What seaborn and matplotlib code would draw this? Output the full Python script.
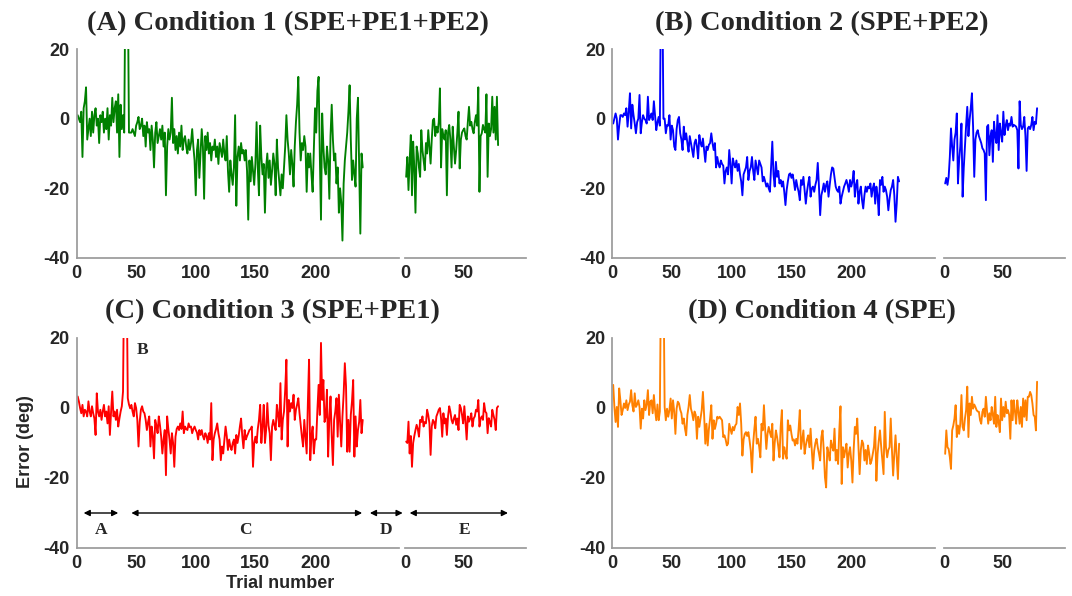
import numpy as np
import pandas as pd
import matplotlib
matplotlib.use("Agg")
import matplotlib.pyplot as plt
import seaborn as sns

# error (deg) per trial
cond1_main = [
    1, 0, -1, 2, -11, 3, 5, 9, -6, -3,
    0, -5, 2, -4, 1, 3, -2, 0, -7, 1,
    -1, 2, -4, 0, -3, 3, -6, 1, -2, 6,
    -1, 3, 5, -4, 7, -11, 4, -3, 1, -4,
    40, 40, 40, -4, -4, -4, -3, -4, -5, -2,
    -1, 0.5, -3, -2, 0, -5, -2, -8, -1, -4,
    -3, -9, -2, -6, -14, -4, -1, -7, -5, -3,
    -6, -2, -8, -4, -22, -8, -3, -6, -4, 6,
    -7, -3, -9, -5, -10, -4, -8, -2, -9, -6,
    -5, -8, -10, -6, -9, -7, -3, -8, -12, -22,
    -9, -6, -17, -10, -3, -8, -23, -5, -9, -4,
    -10, -7, -12, -8, -9, -6, -11, -8, -13, -7,
    -9, -11, -6, -10, -12, -5, -15, -21, -12, -16,
    -19, -14, 1, -25, -11, -8, -12, -7, -10, -9,
    -12, -9, -15, -29, -12, -18, -11, -15, -19, -13,
    -1, -14, -22, -2, -11, -16, -13, -27, -14, -10,
    -17, -12, -19, -15, -10, -13, -22, -6, -14, -18,
    -22, -16, -20, -14, -8, 1, -6, -10, -16, -9,
    -13, -19.5, -8, -1, 4, 12, -4, -12, -7, -9,
    -5, -8, -21, -10, -14, -10, -16, -21, -9, 3,
    -4, 8, 12, -10, -29, 1.5, -8, -14, -16, -8,
    -12, -23, -5, 4, -6, -12, -10, -18.6, -14, -27,
    -20, -24, -35, -18.6, -12, -8, -4, 2, 9.6, -6,
    -17.6, -12, -16, -19.5, 0, 6, -14, -33, -10, -14,
]
cond1_post = [
    -16.7, -11, -20.5, -12, -4.7, -22, -6.6, -14, -27, -8,
    -10, -14, -16.7, -3.3, -9, -12, -14.8, -7, -10, -3.3,
    -8, -12.9, -6, -0.4, 0, -5, -2.3, -4, -1, 8.7,
    -14, -3, -5, -6, -3.3, -22, -4, -1.8, -6, -14,
    -2.3, -8, -12.9, -9, -4, 2, -14.3, -6, -4, -3.3,
    -2.8, -5, -6, -1, 3.4, -2, -0.9, -3, -4.2, -1,
    1, -2, 9, -21, -5, -4.2, -1.8, -3, -4, 7,
    -16.7, -1.4, -5, -3, 6.3, -4, 3.4, -6, 6.3, -7.6,
]

cond2_main = [
    -1.4, 0, 1.5, 0, -6, -2, 1, 1, 0.5, 1.5,
    1, 3, -2.3, 2, 7.3, -2.8, 4, 1, -1.4, -4.2,
    -1, 0, 6.8, -4.2, -1, 1, 0, -0.4, -1.4, 6.3,
    -0.4, 0.5, 1.5, -0.4, 5, 1, -3.3, -1, 0.5, -2,
    40, 40, 0, 0, -4.2, -1.8, -2, 1, -6, -2,
    -3.3, -8, -9, -3, -0.4, 0.5, -4.2, -6, -9, -2.3,
    -6, -4.2, -7, -9.5, -5, -7, -9, -11, -7, -6,
    -8, -11.4, -4.7, -7, -8, -5.7, -9, -12.4, -8, -9,
    -7.5, -7, -4.2, -7, -9, -7, -14, -11, -13, -14,
    -12, -13, -13.5, -18.6, -15, -14, -16, -9, -13, -18.6,
    -11.4, -13, -14, -12, -15, -13, -16, -18, -22, -16,
    -15, -14, -11, -17.6, -15, -14, -11, -15, -17.6, -12,
    -14, -16, -12, -13, -14, -18, -16.7, -18, -19.5, -18.6,
    -20, -21, -14, -6.6, -16, -19.5, -12.4, -16.7, -15, -18.6,
    -17.6, -19.5, -18, -21, -24.8, -20.5, -18, -16, -15.7, -17,
    -16, -18, -20.5, -17.6, -19.5, -21, -23.4, -17.6, -19, -16.7,
    -20.5, -24.4, -21, -18.6, -16.7, -22.4, -20, -19.5, -21, -19,
    -17.6, -12.7, -19.5, -27.7, -22, -20.5, -18.6, -21, -19, -18,
    -22.4, -19, -16, -14, -14.3, -17, -19.5, -20.5, -21, -19.5,
    -24.4, -22.4, -21, -19.5, -18.6, -17.6, -19, -21, -17.6, -19.5,
    -18, -15, -22.4, -19, -17.6, -24.4, -21, -19.5, -23.4, -25.8,
    -22, -19.5, -21, -19.5, -20, -18.6, -22.4, -20, -18.6, -24.4,
    -19.5, -22, -27.7, -17.6, -19, -16.7, -21, -19.5, -20.5, -22.4,
    -26.3, -23, -20.5, -19.5, -17.6, -22, -29.6, -24.4, -16.7, -18,
]
cond2_post = [
    -18.6, -17, -19, -16.7, -11, -2.8, -8, -12, -6, -4,
    1.5, -18.6, -12, -8, -1.4, -22.4, -14, -8, -2, 3.4,
    -5, -0.4, 3, 7.3, -2.3, -16.7, -6, -4, -3.3, -5,
    -6, -7, -8.5, -9, -10, -23.4, -2.3, -1.8, -10.5, -5,
    -3.3, -12.4, -0.9, -5, -7, 1, -9, -1.4, -4.2, -6.6,
    2, -4.7, -2, -0.4, -3.3, -1.4, -2, 0.5, -2.3, -1.8,
    -2, -2.3, -3.3, -14.3, 5, -1.8, -3, -2.3, 0.5, -5,
    -15, -2.8, -2.3, -3, -1.8, 0.5, -3.3, -0.9, -1.5, 3,
]

cond3_main = [
    3.3, 1.9, 0, -1.5, 0.9, -2.4, -0.5, -1, -2.4, 1.9,
    -1, -2.4, 0.5, -1.5, -3, -7.7, 4.2, -1, -2.4, -0.5,
    -3.4, -1, 0.9, -2.4, -1, -4.4, 0.5, -7.7, -1, 4.7,
    -2.4, -1, -3.4, -0.5, -5.3, -3, -1, 0.5, 4.7, 40,
    40, 40, 2.8, 1, -0.1, 0.9, -1, -2.4, 1.4, 0,
    -3.4, -11, -4, -0.5, 0.5, -1, -1.5, -3.4, -6.3, -4,
    -2.4, -11, -5.3, -8, -14.4, -3.4, -5, -7.2, -2.4, -5,
    -8.2, -13, -9, -6.3, -19.2, -2.4, -6, -9, -13, -7.2,
    -10, -16.8, -8.2, -6, -5.3, -6.3, -4.4, -6, -1, -7.2,
    -5.3, -6, -6.3, -4.4, -5.5, -5.3, -7.2, -6, -5.3, -6.3,
    -7, -9, -6.3, -7.7, -6.3, -8, -9, -7.2, -8, -10,
    -7.2, -9, 1.4, -14.9, -9, -7.2, -6, -4.4, -7.2, -9,
    -14.9, -11, -13, -9, -5.3, -8, -12, -9, -11, -12,
    -10, -9, -13, -7.7, -10, -8, -5.3, -3, -8, -11.5,
    -6.3, -9, -8, -7.2, -6.3, -6, -5.3, -16.8, -10, -8.2,
    -10, -6, -3.4, 0.9, -10, -5.3, 0.9, -10, -6.3, 1.4,
    -5, -7.2, -14.9, -5.3, -3.4, -5, -6.3, 0.9, -2, -5.3,
    7.1, -9, -3.4, -1, 5.2, 13.8, -11, 2.3, -1, 1.4,
    0, 3.8, -3.4, -0.5, 1, 2.8, -1.5, -5, -8.2, -11,
    -3.4, -8, -13, 1.4, 13.8, -14.9, -8, -5.3, -13, -9,
    -9, -0.5, 6.6, -2, 18.6, 2.3, 8, -4, -2.4, 5.2,
    -13.9, -3, 3.3, -8, -16.3, -3.4, -1, 2.8, -8.2, 3.8,
    -4, -11, -2.4, 4, 12.8, 6.2, -12.5, -3.4, -12.5, -2,
    1.9, 8, -13.9, -2.4, -11, -6.3, -4, 2.3, -7.2, -3.4,
]
cond3_post = [
    -9.6, -10, -3.9, -13, -8, -16.8, -10, -8, -6.3, -4.8,
    -6, -8.2, -3.4, -4, -2.4, -5.3, -4, -4.4, -0.5, -2,
    -4.4, -13.4, -5.3, -3.4, -4, -5.8, -2.4, -1.5, -0.5, 0,
    -3, -8.2, -1.5, -4.4, -3, -7.7, -2.4, 0.5, -1, -3.4,
    -4.4, -3, -2, -4.8, -3, -6.3, 0.9, 0, -2, -4.4,
    0.5, -4, -9, -2.4, -3.9, -3, -1.5, -5.3, -3, -2.4,
    -0.5, -1, 2.3, -5.3, -3, -2.4, -3.4, 1.4, -1, -1.5,
    -7.2, -2.9, -4, -5.3, -0.5, -2, -3.4, -6.3, 0, 0.5,
]

cond4_main = [
    6.6, 0.3, -4, 0.3, -5.4, 5.6, 2.2, -2, -0.6, 1.3,
    0, 2.2, -0.6, 1, 1.8, 5.1, 0.8, -1, 4.2, 0.3,
    1, 2.2, 0.3, -5.9, -0.2, -3, 2.2, -0.6, 1, 5.1,
    -2, 1.8, 2.2, -1.5, 3.7, -0.5, -3.5, 1, -3.5, -1,
    40, 40, 40, 0.3, -3.5, -0.2, -2.5, -0.6, 2.7, -3,
    2.2, -1, -7.4, -0.2, 1.8, 1.3, -0.5, -1.5, -4.5, -3,
    -5.9, -7.8, -2, 0.3, 3.7, -0.2, -1.5, -3.5, -1, -2,
    -8.8, -2.5, -5.4, -3, -0.6, 4.6, -2, -10.2, -4.5, -10.7,
    -6, -3, 0.8, -8.8, -3.5, -6, -4.5, -2.5, -3, -2.5,
    -3, -3.5, -8.3, -7.8, -9, -10.7, -10.2, -4.5, -6, -7.4,
    -5.4, -6.4, -5, -4.5, 0.3, -2, 1.3, -4.5, -13.6, -9,
    -7.4, -6.9, -8, -6.9, -9.3, -12.2, -18.4, -10.2, -6, -2.5,
    -10.2, -8.8, -11, -14.1, -4.5, -6.4, 0.8, -6, -11.7, -7.4,
    -5.4, -7, -8.3, -4.5, -15, -10, -6.4, -8.3, -11, -14.1,
    -5.4, -0.6, -14.5, -11.2, -13, -14.5, -3.5, -6.4, -5, -7.4,
    -9.3, -9, -10.7, -8.8, -10.2, -6, -0.6, -11.7, -9, -6.4,
    -13.1, -10.7, -9, -7.8, -11.2, -5.9, -12, -17.4, -12.2, -10,
    -8.8, -11.2, -13, -15, -8.3, -6.4, -12, -19.8, -22.7, -11.2,
    -13, -15, -9.3, -11, -12.2, -5.9, -15, -12, -16, -6.4,
    0.5, -21.7, -11.2, -14.1, -12, -10.2, -17, -13, -11.2, -15,
    -21.3, -12, -5.4, -7.4, -3, -11.2, -18.9, -12, -9.3, -10.2,
    -15, -12, -16, -10.7, -13, -16, -15, -13.1, -11, -5.4,
    -20.8, -13.1, -9.3, -6.4, -11, -15, -18.9, -1.1, -11.2, -14.1,
    -12, -11.2, -3, -12, -19.3, -13.1, -7.8, -14, -20.3, -10.2,
]
cond4_post = [
    -13.1, -6.4, -11.2, -11.7, -14, -17.4, -6.4, -5, -3, 0.8,
    -8.3, -5, -7.4, -4.5, 3.7, -5.4, -6.4, -3, -0.6, 6.1,
    -8.3, 1.3, -2, 3.2, -0.2, 1, 0.3, -0.6, -1, -1.1,
    -3.5, -4.5, -1.1, -0.2, -2.5, 3.2, -1, -4.5, -1.5, -3.5,
    0.3, -2, -4.5, 3.2, -5.4, -2, -4, -6.9, 2.7, -3.5,
    0.3, -2.5, 1.8, -1.5, -0.6, -2, -8.8, 2.2, -3.5, 2.2,
    -1, -4.5, 2.2, -1, -4.5, 0.3, -5.4, 2.7, -2.5, 2.2,
    -3.5, 3.2, 3.2, 4.6, 3.7, 1.3, -2, -2.5, -6.4, 7.5,
]

titles = [
    "(A) Condition 1 (SPE+PE1+PE2)",
    "(B) Condition 2 (SPE+PE2)",
    "(C) Condition 3 (SPE+PE1)",
    "(D) Condition 4 (SPE)",
]
colors = ["#008000", "#0000ff", "#ff0000", "#ff8000"]
mains = [cond1_main, cond2_main, cond3_main, cond4_main]
posts = [cond1_post, cond2_post, cond3_post, cond4_post]

main_ticks = [0, 50, 100, 150, 200, 250]
main_labels = ["0", "50", "100", "150", "200", ""]
post_ticks = [0, 50, 100]
post_labels = ["0", "50", ""]
y_ticks = [-40, -20, 0, 20]

# phase annotations on panel C
phase_names = ["A", "C", "D"]
phase_spans = [(6, 35), (46, 239.5), (246, 273.5)]
post_phase_span = (4, 88.5)

W, H = 1072, 596
SPINE = "#9a9a9a"
sans = ["Liberation Sans", "DejaVu Sans"]
serif = ["Liberation Serif", "DejaVu Serif"]


def px_rect(x0, x1, y0, y1):
    return [x0 / W, 1 - y1 / H, (x1 - x0) / W, (y1 - y0) / H]


def style(ax, xticks, xlabels, xlim, first):
    ax.set_xlim(*xlim)
    ax.set_ylim(-40, 20)
    ax.set_xticks(xticks)
    ax.set_xticklabels(xlabels)
    ax.set_xlabel("")
    ax.set_ylabel("")
    for s in ["top", "right"]:
        ax.spines[s].set_visible(False)
    ax.spines["bottom"].set_color(SPINE)
    ax.spines["left"].set_color(SPINE)
    ax.tick_params(direction="in", length=4, color=SPINE, width=0.8,
                   labelsize=13, pad=5)
    if first:
        ax.set_yticks(y_ticks)
    else:
        ax.spines["left"].set_visible(False)
        ax.set_yticks([])
    for lab in ax.get_xticklabels() + ax.get_yticklabels():
        lab.set_fontweight("bold")
        lab.set_family(sans)


sns.set_theme(style="white")
plt.rcParams["font.family"] = sans
plt.rcParams["axes.unicode_minus"] = False

fig = plt.figure(figsize=(W / 100, H / 100), dpi=100)

cols = [(76.5, 398.5, 405, 526), (612, 935, 944, 1065)]
rows = [(49, 258), (338, 548)]
title_pos = [(288, 21), (822, 21), (272, 309), (822, 309)]

axes_main = []
axes_post = []
for i in range(4):
    r, c = divmod(i, 2)
    xa0, xa1, xb0, xb1 = cols[c]
    y0, y1 = rows[r]
    ax = fig.add_axes(px_rect(xa0, xa1, y0, y1))
    ax2 = fig.add_axes(px_rect(xb0, xb1, y0, y1))

    y = mains[i]
    sns.lineplot(x=np.arange(1, len(y) + 1), y=y, ax=ax, color=colors[i],
                 linewidth=1.35, errorbar=None)
    y2 = posts[i]
    sns.lineplot(x=np.arange(1, len(y2) + 1), y=y2, ax=ax2, color=colors[i],
                 linewidth=1.35, errorbar=None)

    style(ax, main_ticks, main_labels, (0, 270), True)
    style(ax2, post_ticks, post_labels, (0, 104), False)

    tx, ty = title_pos[i]
    fig.text(tx / W, 1 - ty / H, titles[i], ha="center", va="center_baseline",
             fontsize=20.5, fontweight="bold", family=serif)
    axes_main.append(ax)
    axes_post.append(ax2)

# phase arrows and letters on panel C
axc, axc2 = axes_main[2], axes_post[2]
arrow = dict(arrowstyle="<|-|>", color="black", lw=1.0,
             mutation_scale=9, shrinkA=0, shrinkB=0)
for name, (a, b) in zip(phase_names, phase_spans):
    axc.annotate("", xy=(b, -30), xytext=(a, -30), arrowprops=arrow,
                 annotation_clip=False)
    axc.text((a + b) / 2 + (0 if name != "C" else -1), -35, name,
             ha="center", va="center", fontsize=12.5, fontweight="bold",
             family=serif, clip_on=False)
axc2.annotate("", xy=(post_phase_span[1], -30), xytext=(post_phase_span[0], -30),
              arrowprops=arrow, annotation_clip=False)
axc2.text(51, -35, "E", ha="center", va="center", fontsize=12.5,
          fontweight="bold", family=serif)
axc.text(55, 16.6, "B", ha="center", va="center", fontsize=12.5,
         fontweight="bold", family=serif)

fig.text(25 / W, 1 - 442 / H, "Error (deg)", rotation=90, ha="center",
         va="center", fontsize=13, fontweight="bold", family=sans)
fig.text(280 / W, 1 - 584 / H, "Trial number", ha="center", va="center",
         fontsize=13, fontweight="bold", family=sans)

fig.savefig("out.png", dpi=100)
plt.close(fig)
